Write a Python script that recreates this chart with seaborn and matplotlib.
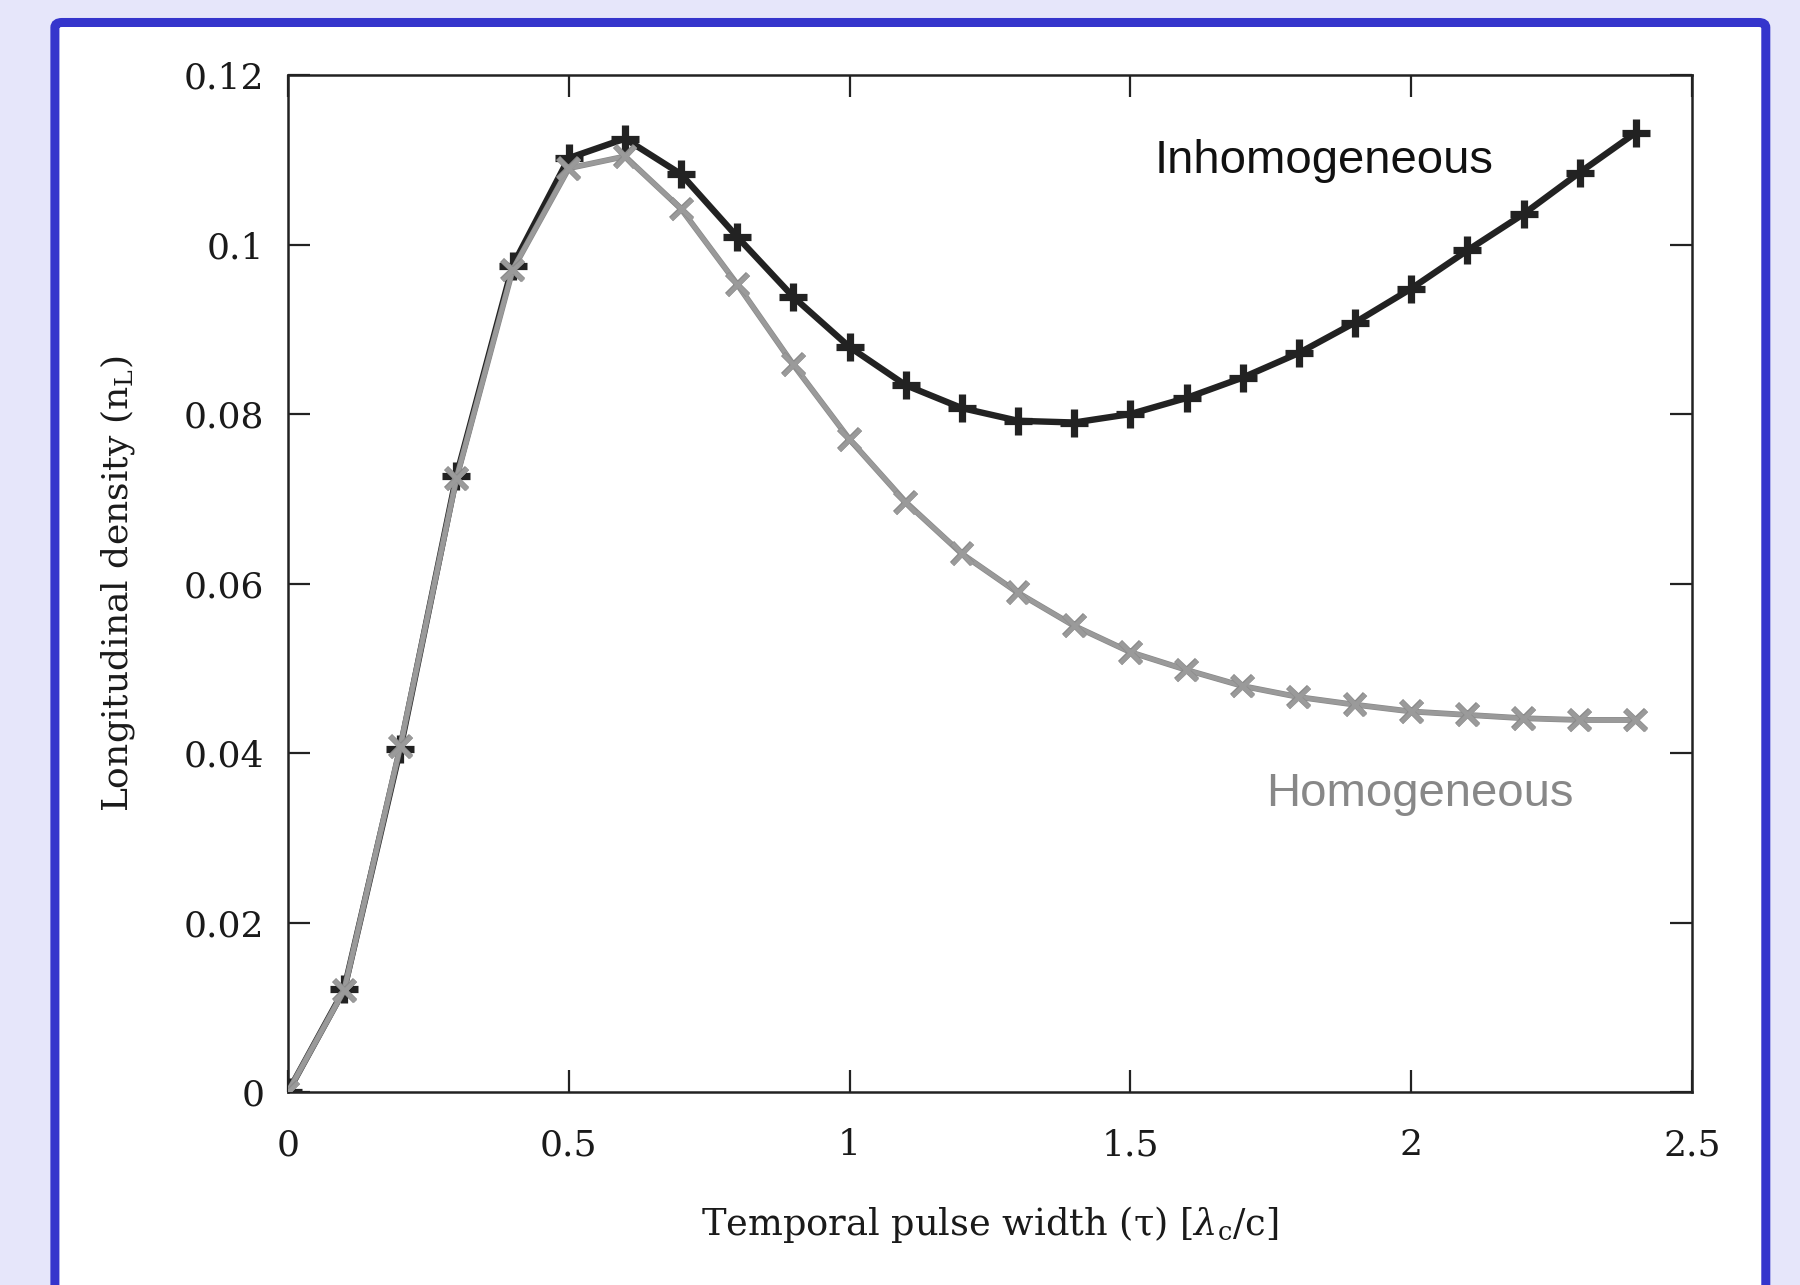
import matplotlib.pyplot as plt
import matplotlib.patches as mpatches
import matplotlib.patheffects as pe
import numpy as np
import pandas as pd
import seaborn as sns

# Data
pulse_width = [0.0, 0.1, 0.2, 0.3, 0.4, 0.5, 0.6, 0.7, 0.8, 0.9, 1.0, 1.1, 1.2,
               1.3, 1.4, 1.5, 1.6, 1.7, 1.8, 1.9, 2.0, 2.1, 2.2, 2.3, 2.4]
inhomogeneous = [0.0, 0.0121, 0.0405, 0.0727, 0.0975, 0.1102, 0.1125, 0.1083,
                 0.1009, 0.0938, 0.0879, 0.0834, 0.0807, 0.0792, 0.0790, 0.0800,
                 0.0819, 0.0843, 0.0872, 0.0908, 0.0948, 0.0993, 0.1036, 0.1085,
                 0.1132]
homogeneous = [0.0, 0.0120, 0.0408, 0.0724, 0.0970, 0.1090, 0.1104, 0.1042,
               0.0953, 0.0858, 0.0770, 0.0696, 0.0635, 0.0589, 0.0550, 0.0519,
               0.0498, 0.0479, 0.0466, 0.0457, 0.0449, 0.0445, 0.0441, 0.0439,
               0.0439]
x_ticks = [0, 0.5, 1, 1.5, 2, 2.5]
x_tick_labels = ['0', '0.5', '1', '1.5', '2', '2.5']
y_ticks = [0, 0.02, 0.04, 0.06, 0.08, 0.1, 0.12]
y_tick_labels = ['0', '0.02', '0.04', '0.06', '0.08', '0.1', '0.12']

df = pd.DataFrame({'tau': pulse_width,
                   'Inhomogeneous': inhomogeneous,
                   'Homogeneous': homogeneous})

sns.set_style('white')
plt.rcParams['font.family'] = ['DejaVu Serif']
plt.rcParams['mathtext.fontset'] = 'dejavuserif'

fig = plt.figure(figsize=(18, 12.85), dpi=100, facecolor='#E6E6FA')

# White panel with blue frame (bottom edge runs off the image)
panel = mpatches.FancyBboxPatch((0.0305, -0.05), 0.9505, 1.0325,
                                boxstyle='round,pad=0,rounding_size=0.004',
                                transform=fig.transFigure, facecolor='white',
                                edgecolor='#3535CC', linewidth=6.5, zorder=-5)
fig.patches.append(panel)

ax = fig.add_axes([0.16, 0.1502, 0.78, 0.7914])
ax.set_facecolor('none')
ax.set_zorder(2)

sns.lineplot(data=df, x='tau', y='Inhomogeneous', ax=ax, color='#222222',
             linewidth=4.6, marker='+', markersize=20, markeredgewidth=5.2,
             markeredgecolor='#222222', zorder=3)
sns.lineplot(data=df, x='tau', y='Homogeneous', ax=ax, color='#9a9a9a',
             linewidth=3.2, marker='x', markersize=15, markeredgewidth=3.3,
             markeredgecolor='#9a9a9a', zorder=4,
             path_effects=[pe.Stroke(linewidth=4.2, foreground='#8a8a8a'),
                           pe.Normal()])

ax.set_xlim(0, 2.5)
ax.set_ylim(0, 0.12)
ax.set_xticks(x_ticks)
ax.set_xticklabels(x_tick_labels)
ax.set_yticks(y_ticks)
ax.set_yticklabels(y_tick_labels)

for side in ['left', 'right', 'top', 'bottom']:
    ax.spines[side].set_visible(True)
    ax.spines[side].set_color('#222222')
    ax.spines[side].set_linewidth(1.8)

ax.tick_params(axis='both', which='major', direction='in', length=16,
               width=1.6, color='#222222', labelsize=26, labelcolor='#1a1a1a',
               top=True, right=True, bottom=True, left=True)
ax.tick_params(axis='x', pad=26)
ax.tick_params(axis='y', pad=17)

ax.set_xlabel(r'Temporal pulse width (τ) [$\lambda_\mathrm{c}$/c]',
              fontsize=26.5, color='#1a1a1a', labelpad=30)
ax.set_ylabel(r'Longitudinal density ($\mathrm{n_L}$)', fontsize=26,
              color='#1a1a1a', labelpad=34)

ax.text(1.543, 0.1099, 'Inhomogeneous', fontsize=34, color='#111111',
        family=['Liberation Sans'], ha='left', va='center')
ax.text(1.741, 0.0352, 'Homogeneous', fontsize=34, color='#888888',
        family=['Liberation Sans'], ha='left', va='center')

plt.savefig('out.png', dpi=100, facecolor=fig.get_facecolor())
